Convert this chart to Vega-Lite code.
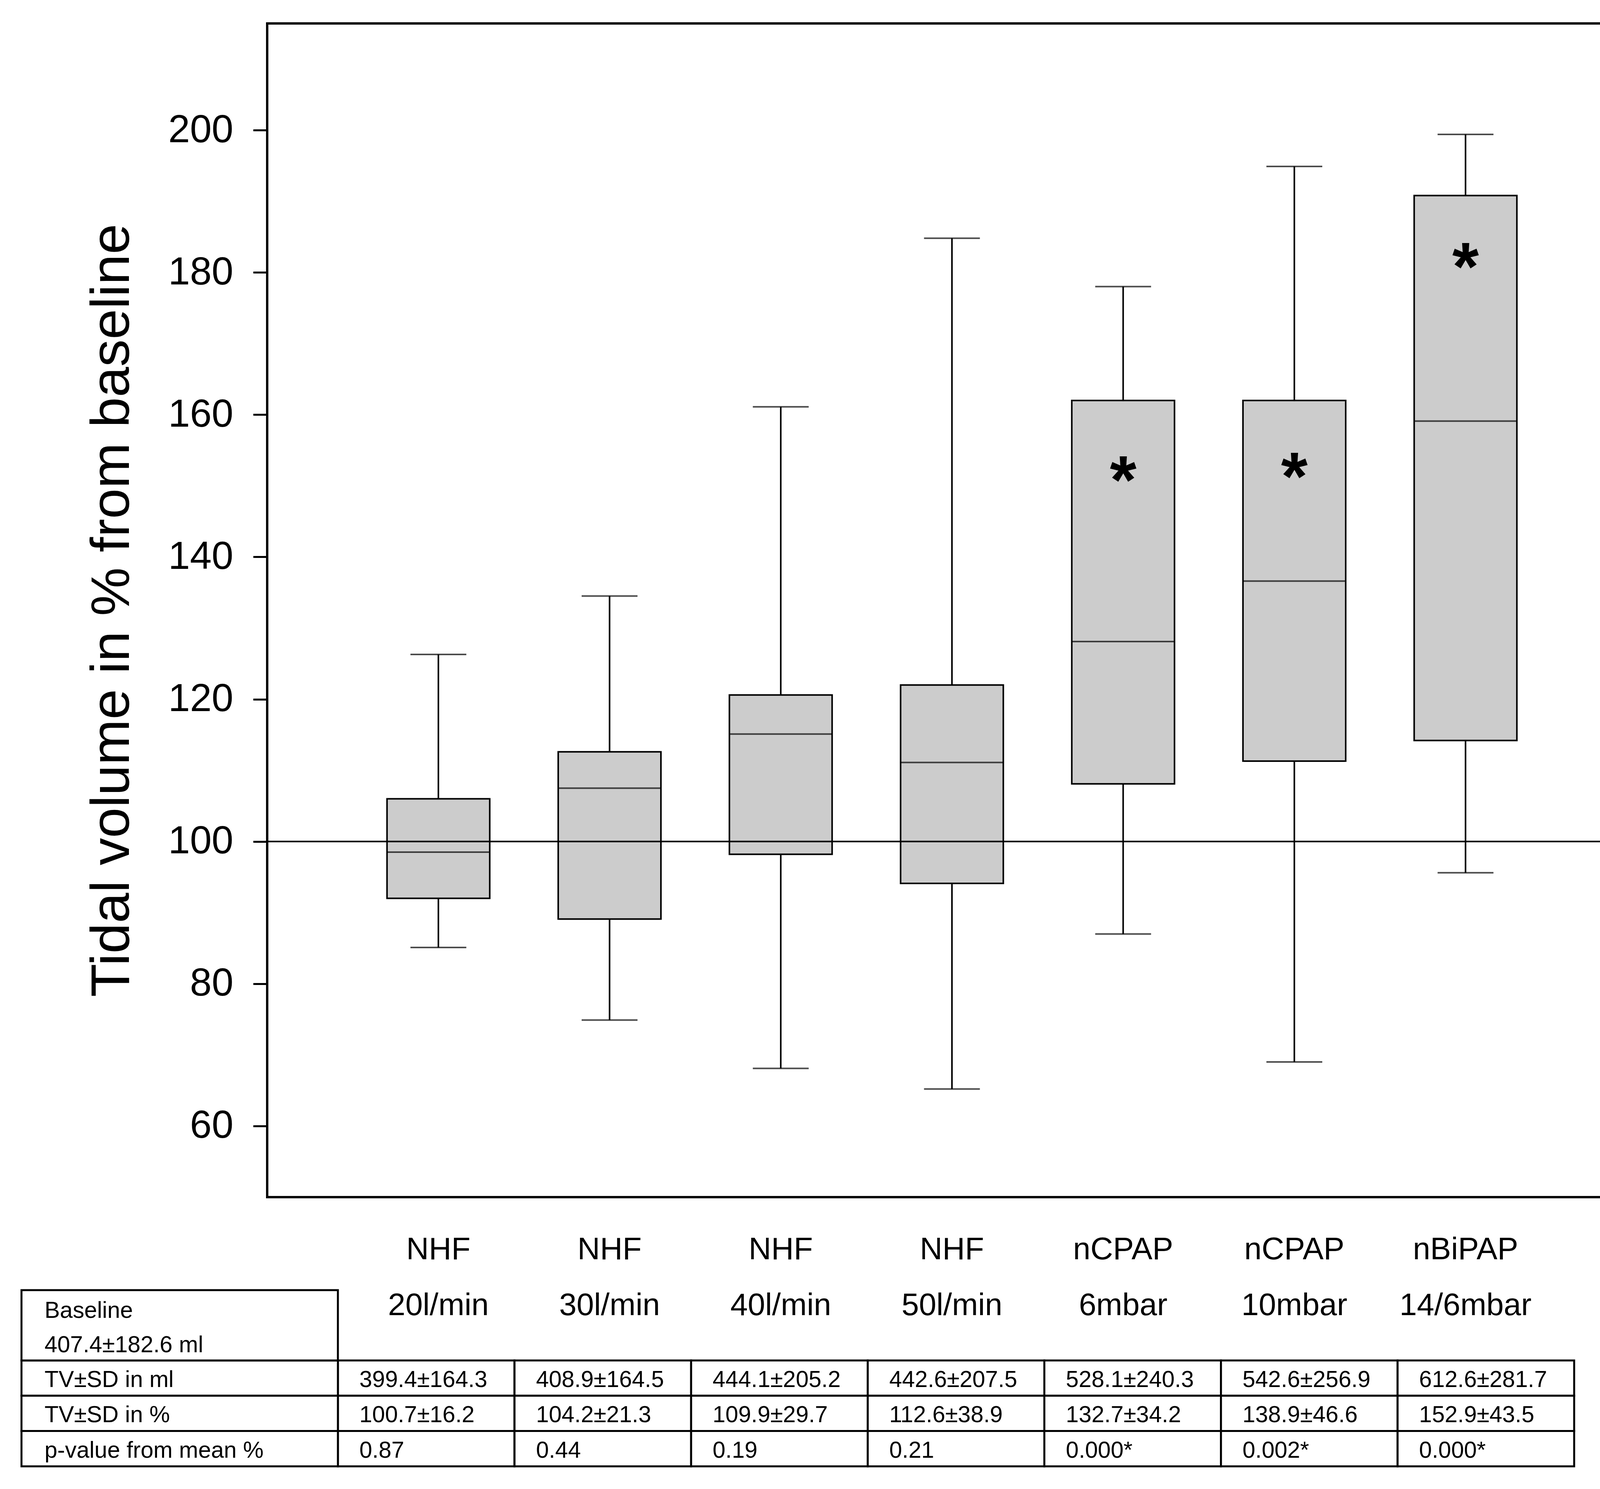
{
  "$schema": "https://vega.github.io/schema/vega-lite/v6.json",
  "width": 3506,
  "height": 3004,
  "autosize": {"type": "none"},
  "padding": {"left": 684, "top": 60, "right": 63, "bottom": 747},
  "background": "white",
  "datasets": {
    "boxes": [
      {"cond": "NHF 20l/min", "lo": 85.1, "q1": 92.0, "med": 98.5, "q3": 106.0, "hi": 126.3},
      {"cond": "NHF 30l/min", "lo": 74.9, "q1": 89.1, "med": 107.5, "q3": 112.6, "hi": 134.5},
      {"cond": "NHF 40l/min", "lo": 68.1, "q1": 98.2, "med": 115.1, "q3": 120.6, "hi": 161.1},
      {"cond": "NHF 50l/min", "lo": 65.2, "q1": 94.1, "med": 111.1, "q3": 122.0, "hi": 184.8},
      {"cond": "nCPAP 6mbar", "lo": 87.0, "q1": 108.1, "med": 128.1, "q3": 162.0, "hi": 178.0, "star": "*", "star_y": 152.0},
      {"cond": "nCPAP 10mbar", "lo": 69.0, "q1": 111.3, "med": 136.6, "q3": 162.0, "hi": 194.9, "star": "*", "star_y": 152.5},
      {"cond": "nBiPAP 14/6mbar", "lo": 95.6, "q1": 114.2, "med": 159.1, "q3": 190.8, "hi": 199.4, "star": "*", "star_y": 182.0}
    ],
    "table": [
      {"cond": "NHF 20l/min", "idx": 1, "row": 1, "text": "399.4±164.3"},
      {"cond": "NHF 30l/min", "idx": 2, "row": 1, "text": "408.9±164.5"},
      {"cond": "NHF 40l/min", "idx": 3, "row": 1, "text": "444.1±205.2"},
      {"cond": "NHF 50l/min", "idx": 4, "row": 1, "text": "442.6±207.5"},
      {"cond": "nCPAP 6mbar", "idx": 5, "row": 1, "text": "528.1±240.3"},
      {"cond": "nCPAP 10mbar", "idx": 6, "row": 1, "text": "542.6±256.9"},
      {"cond": "nBiPAP 14/6mbar", "idx": 7, "row": 1, "text": "612.6±281.7"},
      {"cond": "NHF 20l/min", "idx": 1, "row": 2, "text": "100.7±16.2"},
      {"cond": "NHF 30l/min", "idx": 2, "row": 2, "text": "104.2±21.3"},
      {"cond": "NHF 40l/min", "idx": 3, "row": 2, "text": "109.9±29.7"},
      {"cond": "NHF 50l/min", "idx": 4, "row": 2, "text": "112.6±38.9"},
      {"cond": "nCPAP 6mbar", "idx": 5, "row": 2, "text": "132.7±34.2"},
      {"cond": "nCPAP 10mbar", "idx": 6, "row": 2, "text": "138.9±46.6"},
      {"cond": "nBiPAP 14/6mbar", "idx": 7, "row": 2, "text": "152.9±43.5"},
      {"cond": "NHF 20l/min", "idx": 1, "row": 3, "text": "0.87"},
      {"cond": "NHF 30l/min", "idx": 2, "row": 3, "text": "0.44"},
      {"cond": "NHF 40l/min", "idx": 3, "row": 3, "text": "0.19"},
      {"cond": "NHF 50l/min", "idx": 4, "row": 3, "text": "0.21"},
      {"cond": "nCPAP 6mbar", "idx": 5, "row": 3, "text": "0.000*"},
      {"cond": "nCPAP 10mbar", "idx": 6, "row": 3, "text": "0.002*"},
      {"cond": "nBiPAP 14/6mbar", "idx": 7, "row": 3, "text": "0.000*"}
    ],
    "rowlabels": [
      {"row": 1, "label": "TV±SD in ml"},
      {"row": 2, "label": "TV±SD in %"},
      {"row": 3, "label": "p-value from mean %"}
    ],
    "baseline": [
      {"label": "Baseline", "value": "407.4±182.6 ml"}
    ]
  },
  "config": {
    "view": {"stroke": "black", "strokeWidth": 6},
    "font": "Liberation Sans",
    "axis": {"grid": false, "domain": false, "labelColor": "black", "titleColor": "black", "tickColor": "black", "labelLimit": 0}
  },
  "layer": [
    {
      "data": {"name": "boxes"},
      "layer": [
        {
          "mark": {"type": "rule", "color": "black", "strokeWidth": 4},
          "encoding": {
            "x": {"field": "cond", "type": "nominal", "title": null,
              "scale": {"domain": ["NHF 20l/min", "NHF 30l/min", "NHF 40l/min", "NHF 50l/min", "nCPAP 6mbar", "nCPAP 10mbar", "nBiPAP 14/6mbar"], "paddingInner": 0.4, "paddingOuter": 0.7},
              "axis": {"orient": "bottom", "ticks": false, "tickSize": 0, "labelAngle": 0, "labelExpr": "split(datum.label, ' ')", "labelFont": "Liberation Sans", "labelFontSize": 80, "labelLineHeight": 143, "labelBaseline": "alphabetic", "labelPadding": 158, "labelOverlap": false}},
            "y": {"field": "lo", "type": "quantitative", "title": "Tidal volume in % from baseline",
              "scale": {"domain": [50, 215], "nice": false, "zero": false},
              "axis": {"values": [60, 80, 100, 120, 140, 160, 180, 200], "tickSize": 36, "tickWidth": 5, "labelFont": "Liberation Sans", "labelFontSize": 100, "labelPadding": 51, "titleFont": "Liberation Sans", "titleFontSize": 140, "titleFontWeight": "normal", "titlePadding": 126}},
            "y2": {"field": "hi"}
          }
        },
        {
          "mark": {"type": "tick", "color": "black", "size": 143, "thickness": 4},
          "encoding": {
            "x": {"field": "cond", "type": "nominal", "title": null},
            "y": {"field": "lo", "type": "quantitative", "title": "Tidal volume in % from baseline"}
          }
        },
        {
          "mark": {"type": "tick", "color": "black", "size": 143, "thickness": 4},
          "encoding": {
            "x": {"field": "cond", "type": "nominal", "title": null},
            "y": {"field": "hi", "type": "quantitative", "title": "Tidal volume in % from baseline"}
          }
        },
        {
          "mark": {"type": "bar", "fill": "#cccccc", "stroke": "black", "strokeWidth": 4},
          "encoding": {
            "x": {"field": "cond", "type": "nominal", "title": null},
            "y": {"field": "q1", "type": "quantitative", "title": "Tidal volume in % from baseline"},
            "y2": {"field": "q3"}
          }
        },
        {
          "mark": {"type": "tick", "color": "black", "size": 263, "thickness": 4},
          "encoding": {
            "x": {"field": "cond", "type": "nominal", "title": null},
            "y": {"field": "med", "type": "quantitative", "title": "Tidal volume in % from baseline"}
          }
        },
        {
          "data": {"values": [{"ref": 100}]},
          "mark": {"type": "rule", "color": "black", "strokeWidth": 4},
          "encoding": {
            "y": {"field": "ref", "type": "quantitative", "title": "Tidal volume in % from baseline"}
          }
        },
        {
          "transform": [{"filter": "datum.star != null"}],
          "mark": {"type": "text", "font": "Liberation Sans", "fontWeight": "bold", "fontSize": 175, "color": "black", "align": "center", "baseline": "alphabetic", "dy": 81},
          "encoding": {
            "x": {"field": "cond", "type": "nominal", "title": null},
            "y": {"field": "star_y", "type": "quantitative", "title": "Tidal volume in % from baseline"},
            "text": {"field": "star"}
          }
        }
      ]
    },
    {
      "layer": [
        {
          "data": {"name": "table"},
          "mark": {"type": "rect", "width": 452, "height": 90.33, "fill": "white", "stroke": "black", "strokeWidth": 5},
          "encoding": {
            "x": {"field": "idx", "type": "quantitative", "scale": {"domain": [0.0998, 7.854], "nice": false, "zero": false}, "axis": null},
            "y": {"field": "row", "type": "quantitative", "scale": {"domain": [-37.383, -4.127], "reverse": true, "nice": false, "zero": false}, "axis": null}
          }
        },
        {
          "data": {"name": "table"},
          "mark": {"type": "text", "font": "Liberation Sans", "fontSize": 59, "color": "black", "align": "left", "baseline": "alphabetic", "dx": -171, "dy": 23},
          "encoding": {
            "x": {"field": "idx", "type": "quantitative", "scale": {"domain": [0.0998, 7.854], "nice": false, "zero": false}, "axis": null},
            "y": {"field": "row", "type": "quantitative", "scale": {"domain": [-37.383, -4.127], "reverse": true, "nice": false, "zero": false}, "axis": null},
            "text": {"field": "text"}
          }
        },
        {
          "data": {"name": "rowlabels"},
          "mark": {"type": "rect", "width": 810, "height": 90.33, "fill": "white", "stroke": "black", "strokeWidth": 5},
          "encoding": {
            "x": {"datum": -0.3956, "type": "quantitative", "scale": {"domain": [0.0998, 7.854], "nice": false, "zero": false}, "axis": null},
            "y": {"field": "row", "type": "quantitative", "scale": {"domain": [-37.383, -4.127], "reverse": true, "nice": false, "zero": false}, "axis": null}
          }
        },
        {
          "data": {"name": "rowlabels"},
          "mark": {"type": "text", "font": "Liberation Sans", "fontSize": 59, "color": "black", "align": "left", "baseline": "alphabetic", "dy": 23},
          "encoding": {
            "x": {"datum": -1.1609, "type": "quantitative", "scale": {"domain": [0.0998, 7.854], "nice": false, "zero": false}, "axis": null},
            "y": {"field": "row", "type": "quantitative", "scale": {"domain": [-37.383, -4.127], "reverse": true, "nice": false, "zero": false}, "axis": null},
            "text": {"field": "label"}
          }
        },
        {
          "data": {"name": "baseline"},
          "mark": {"type": "rect", "width": 810, "height": 180, "fill": "white", "stroke": "black", "strokeWidth": 5},
          "encoding": {
            "x": {"datum": -0.3956, "type": "quantitative", "scale": {"domain": [0.0998, 7.854], "nice": false, "zero": false}, "axis": null},
            "y": {"datum": -0.496, "type": "quantitative", "scale": {"domain": [-37.383, -4.127], "reverse": true, "nice": false, "zero": false}, "axis": null}
          }
        },
        {
          "data": {"name": "baseline"},
          "mark": {"type": "text", "font": "Liberation Sans", "fontSize": 59, "color": "black", "align": "left", "baseline": "alphabetic"},
          "encoding": {
            "x": {"datum": -1.1609, "type": "quantitative", "scale": {"domain": [0.0998, 7.854], "nice": false, "zero": false}, "axis": null},
            "y": {"datum": -0.706, "type": "quantitative", "scale": {"domain": [-37.383, -4.127], "reverse": true, "nice": false, "zero": false}, "axis": null},
            "text": {"field": "label"}
          }
        },
        {
          "data": {"name": "baseline"},
          "mark": {"type": "text", "font": "Liberation Sans", "fontSize": 59, "color": "black", "align": "left", "baseline": "alphabetic"},
          "encoding": {
            "x": {"datum": -1.1609, "type": "quantitative", "scale": {"domain": [0.0998, 7.854], "nice": false, "zero": false}, "axis": null},
            "y": {"datum": 0.268, "type": "quantitative", "scale": {"domain": [-37.383, -4.127], "reverse": true, "nice": false, "zero": false}, "axis": null},
            "text": {"field": "value"}
          }
        }
      ]
    }
  ],
  "resolve": {"scale": {"x": "independent", "y": "independent"}}
}
